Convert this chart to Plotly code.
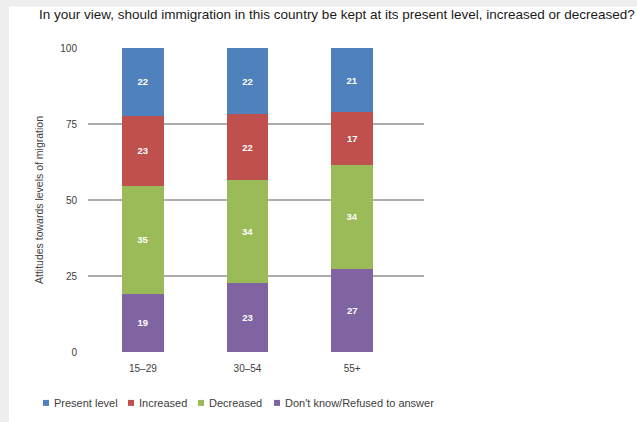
import plotly.graph_objects as go

categories = ["15–29", "30–54", "55+"]
series_names = ["Present level", "Increased", "Decreased", "Don't know/Refused to answer"]
present_level = [22, 22, 21]
increased = [23, 22, 17]
decreased = [35, 34, 34]
dont_know = [19, 23, 27]
colors = ["#4f81bd", "#c0504d", "#9bbb59", "#8064a2"]
y_ticks = [0, 25, 50, 75, 100]

W, H = 637, 422
L, R, T, B = 88, 213, 47.5, 70
pw = W - L - R
ph = H - T - B

def px_x(x):
    return (x - L) / pw

def px_y(y):
    return (H - B - y) / ph

fig = go.Figure()
stack = [(series_names[3], dont_know, colors[3]),
         (series_names[2], decreased, colors[2]),
         (series_names[1], increased, colors[1]),
         (series_names[0], present_level, colors[0])]
for name, vals, col in stack:
    fig.add_trace(go.Bar(
        x=categories, y=vals, name=name, marker=dict(color=col, line=dict(width=0)),
        text=[str(v) for v in vals], textposition="inside", insidetextanchor="middle",
        textfont=dict(color="white", size=9.5, family="Liberation Sans"),
        texttemplate="<b>%{text}</b>", showlegend=False,
    ))

shapes = [dict(type="rect", xref="paper", yref="paper", layer="below",
               x0=px_x(9), x1=px_x(W + 5), y0=px_y(H + 5), y1=px_y(6),
               fillcolor="white", line=dict(width=0))]
annotations = [dict(text="In your view, should immigration in this country be kept at its present level, increased or decreased?",
                    xref="paper", yref="paper", x=px_x(37), xanchor="left",
                    y=px_y(14), yanchor="middle", showarrow=False,
                    font=dict(size=13.5, color="#1a1a1a", family="Liberation Sans"))]

leg_x = [43, 128, 198, 274]
leg_y = 403
for name, col, lx in zip(series_names, colors, leg_x):
    shapes.append(dict(type="rect", xref="paper", yref="paper",
                       x0=px_x(lx), x1=px_x(lx + 6), y0=px_y(leg_y + 3), y1=px_y(leg_y - 3),
                       fillcolor=col, line=dict(width=0)))
    annotations.append(dict(text=name, xref="paper", yref="paper", x=px_x(lx + 9), xanchor="left",
                            y=px_y(leg_y), yanchor="middle", showarrow=False,
                            font=dict(size=11, color="#404040", family="Liberation Sans")))

fig.update_layout(
    width=W, height=H,
    margin=dict(l=L, r=R, t=T, b=B, pad=0),
    barmode="stack", barnorm="percent", bargap=0.6, showlegend=False,
    paper_bgcolor="#eeeeee", plot_bgcolor="rgba(0,0,0,0)",
    font=dict(family="Liberation Sans", color="#404040", size=10),
    xaxis=dict(range=[-0.524, 2.686], showgrid=False, zeroline=False, showline=False,
               ticks="", tickfont=dict(size=10, color="#404040"), ticklabelstandoff=9),
    yaxis=dict(range=[0, 100], tickvals=y_ticks, showgrid=True, gridcolor="#adadad", gridwidth=1.5,
               zeroline=False, showline=False, ticks="", tickfont=dict(size=10, color="#404040"),
               ticklabelstandoff=10,
               title=dict(text="Attitudes towards levels of migration", font=dict(size=10.5, color="#404040"),
                          standoff=14)),
    shapes=shapes,
    annotations=annotations,
)
fig.write_html("out.html")
